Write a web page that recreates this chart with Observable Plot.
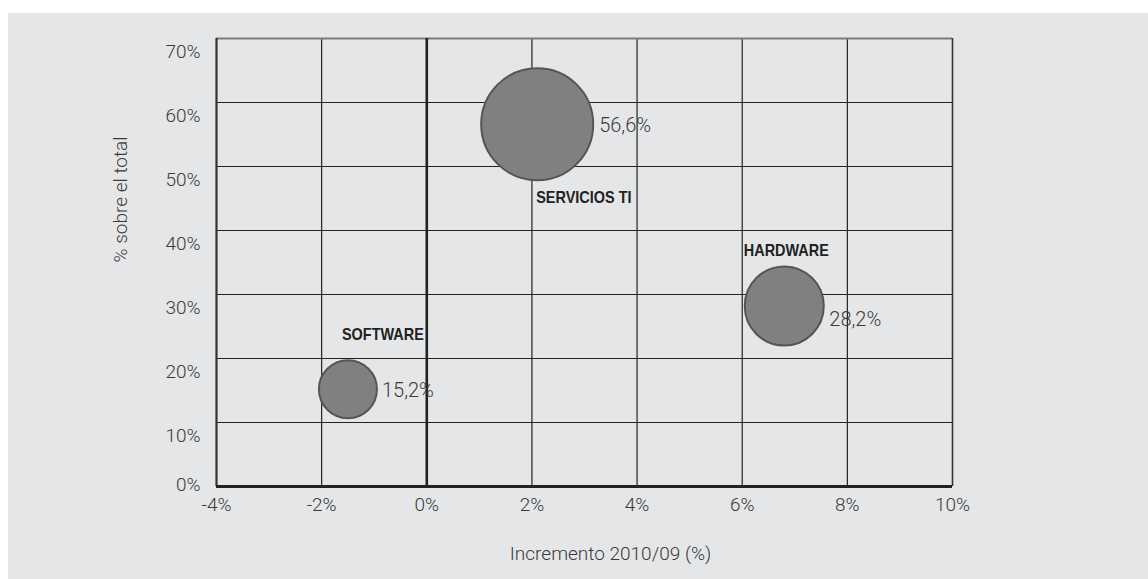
<!DOCTYPE html>
<html>
<head>
<meta charset="utf-8">
<script src="https://cdn.jsdelivr.net/npm/d3@7"></script>
<script src="https://cdn.jsdelivr.net/npm/@observablehq/plot@0.6"></script>
<style>
  html, body { margin: 0; padding: 0; background: #ffffff; }
  #chart { position: absolute; left: 8px; top: 13px; width: 1140px; height: 566px; background: #e5e6e8; }
  #chart svg { display: block; }
</style>
</head>
<body>
<div id="chart"></div>
<script>
// Data
const names = ["SERVICIOS TI", "HARDWARE", "SOFTWARE"];
const growth = [2.1, 6.8, -1.5];        // Incremento 2010/09 (%)
const share = [56.6, 28.2, 15.2];       // % sobre el total
const xTicks = [-4, -2, 0, 2, 4, 6, 8, 10];
const yTicks = [0, 10, 20, 30, 40, 50, 60, 70];

const data = names.map((n, i) => ({name: n, growth: growth[i], share: share[i]}));

// Layout (styling only)
const labelOffsets = {
  "SERVICIOS TI": {dx: -1, dy: 73.5},
  "HARDWARE": {dx: -40.5, dy: -55.5},
  "SOFTWARE": {dx: -6, dy: -54.5}
};
const valueOffsets = {
  "SERVICIOS TI": {dx: 6, dy: 1.5},
  "HARDWARE": {dx: 5.5, dy: 14},
  "SOFTWARE": {dx: 5, dy: 1}
};
const rDomain = [0, d3.max(share)];
const rRange = [0, 56];
const rScale = d3.scaleSqrt().domain(rDomain).range(rRange);
const fmtPct = v => v.toFixed(1).replace(".", ",") + "%";

const textColor = "#3a3a3a";
const lightFont = {fontFamily: "Roboto, 'Liberation Sans', sans-serif", fontWeight: 300};

const plot = Plot.plot({
  width: 1140,
  height: 566,
  marginLeft: 208,
  marginRight: 196,
  marginTop: 25,
  marginBottom: 93,
  style: {background: "transparent", fontFamily: "Roboto, 'Liberation Sans', sans-serif", color: textColor, overflow: "visible"},
  x: {domain: [-4, 10]},
  y: {domain: [0, 70]},
  r: {type: "sqrt", domain: rDomain, range: rRange},
  marks: [
    Plot.gridX(xTicks.filter(t => t > -4 && t < 10 && t !== 0), {stroke: "#222", strokeOpacity: 1, strokeWidth: 1.2}),
    Plot.gridY(yTicks.filter(t => t > 0 && t < 70), {stroke: "#222", strokeOpacity: 1, strokeWidth: 1.2}),
    Plot.ruleY([70], {stroke: "#7a7a7a", strokeWidth: 2}),
    Plot.ruleX([-4], {stroke: "#333", strokeWidth: 2.2}),
    Plot.ruleX([10], {stroke: "#333", strokeWidth: 1.6}),
    Plot.ruleX([0], {stroke: "#222", strokeWidth: 2.6}),
    Plot.ruleY([0], {stroke: "#222", strokeWidth: 3}),
    Plot.axisX(xTicks, {tickSize: 0, tickPadding: 11, tickFormat: d => d + "%", label: null, fontSize: 19, fill: textColor, ...lightFont}),
    Plot.axisY(yTicks.filter(t => t > 0), {tickSize: 0, tickPadding: 16, tickFormat: d => d + "%", label: null, fontSize: 19, dy: 13, fill: textColor, ...lightFont}),
    Plot.axisY([0], {tickSize: 0, tickPadding: 16, tickFormat: d => d + "%", label: null, fontSize: 19, dy: -2, fill: textColor, ...lightFont}),
    Plot.text(["Incremento 2010/09 (%)"], {frameAnchor: "bottom", dx: 26, dy: 73, fontSize: 19, fill: textColor, ...lightFont}),
    Plot.text(["% sobre el total"], {frameAnchor: "left", dx: -96, rotate: -90, fontSize: 19, fill: textColor, ...lightFont}),
    Plot.dot(data, {x: "growth", y: "share", r: "share", fill: "#808083", stroke: "#555", strokeWidth: 2}),
    ...data.map(d => Plot.text([d], {
      x: "growth", y: "share", text: "name",
      dx: labelOffsets[d.name].dx, dy: labelOffsets[d.name].dy,
      textAnchor: "start", fontSize: 17, fontWeight: "bold",
      fontFamily: "'Liberation Sans Narrow', 'Arial Narrow', 'Liberation Sans', sans-serif", fill: "#222"
    })),
    ...data.map(d => Plot.text([d], {
      x: "growth", y: "share", text: dd => fmtPct(dd.share),
      dx: rScale(d.share) + valueOffsets[d.name].dx, dy: valueOffsets[d.name].dy,
      textAnchor: "start", fontSize: 20, fill: textColor, ...lightFont
    }))
  ]
});
document.getElementById("chart").appendChild(plot);
// Condense the bold category labels (the narrow bold face of the original)
plot.querySelectorAll("text").forEach(function(t) {
  if (names.includes(t.textContent)) {
    const w = t.getComputedTextLength();
    if (w > 0) {
      t.setAttribute("textLength", (w * 0.85).toFixed(1));
      t.setAttribute("lengthAdjust", "spacingAndGlyphs");
    }
  }
});
</script>
</body>
</html>
